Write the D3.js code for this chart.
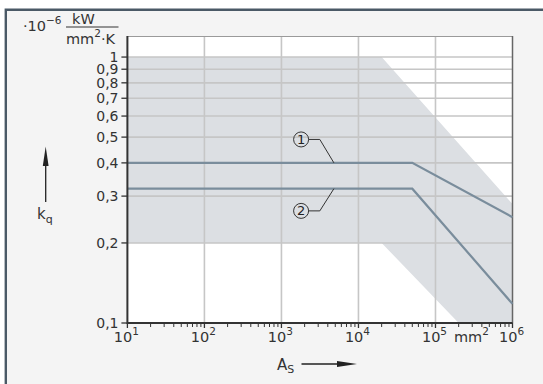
<!DOCTYPE html>
<html><head><meta charset="utf-8">
<script src="https://cdn.jsdelivr.net/npm/d3@7"></script>
<style>html,body{margin:0;padding:0;background:#fff;}svg{display:block;font-family:"DejaVu Sans",sans-serif;}</style>
</head><body>
<script>
// ---- data ----
const xTicks = [1e1, 1e2, 1e3, 1e4, 1e5, 1e6];
const xTickExp = ["1", "2", "3", "4", "5", "6"];
const yTicks = [0.1, 0.2, 0.3, 0.4, 0.5, 0.6, 0.7, 0.8, 0.9, 1];
const yTickLabels = ["0,1", "0,2", "0,3", "0,4", "0,5", "0,6", "0,7", "0,8", "0,9", "1"];
const bandPoly = [[10, 1], [2e4, 1], [1e6, 0.28], [1e6, 0.1], [2e5, 0.1], [2e4, 0.2], [10, 0.2]];
const curve1 = [[10, 0.4], [5e4, 0.4], [1e6, 0.25]];
const curve2 = [[10, 0.32], [5e4, 0.32], [1e6, 0.118]];
const curveLabels = ["1", "2"];
const labelAt = [[1.8e3, 0.49], [1.8e3, 0.264]];
const labelElbow = [[3.15e3, 0.49], [3.15e3, 0.264]];
const labelTo = [[4.8e3, 0.4], [4.8e3, 0.32]];

// ---- layout ----
const W = 543, H = 384;
const x = d3.scaleLog().domain([10, 1e6]).range([127.4, 512.5]);
const y = d3.scaleLog().domain([0.1, 1.2]).range([323, 36]);

const svg = d3.select("body").append("svg").attr("width", W).attr("height", H);
svg.append("rect").attr("width", W).attr("height", H).attr("fill", "#fff");
// outer frame
svg.append("rect").attr("x", 5).attr("y", 9).attr("width", W).attr("height", H).attr("fill", "#f4f4f4");
svg.append("path").attr("d", `M5.8,${H} V9.8 H${W}`).attr("fill", "none").attr("stroke", "#4a5966").attr("stroke-width", 2.4);

// plot background
svg.append("rect").attr("x", x(10)).attr("y", y(1.2)).attr("width", x(1e6) - x(10)).attr("height", y(0.1) - y(1.2)).attr("fill", "#fff");

// band
const line = d3.line().x(d => x(d[0])).y(d => y(d[1]));
svg.append("path").attr("d", line(bandPoly) + "Z").attr("fill", "#dcdfe3");

// grid
const g = svg.append("g").attr("stroke", "#c6c6c6").attr("stroke-width", 1.6);
xTicks.slice(1, -1).forEach(v => g.append("line").attr("x1", x(v)).attr("x2", x(v)).attr("y1", y(1.2)).attr("y2", y(0.1)));
yTicks.slice(1).forEach(v => g.append("line").attr("x1", x(10)).attr("x2", x(1e6)).attr("y1", y(v)).attr("y2", y(v)));

// plot borders top/right
svg.append("line").attr("x1", x(10)).attr("x2", x(1e6)).attr("y1", y(1.2) + 0.5).attr("y2", y(1.2) + 0.5).attr("stroke", "#9a9a9a").attr("stroke-width", 1);
svg.append("line").attr("x1", x(1e6)).attr("x2", x(1e6)).attr("y1", y(1.2)).attr("y2", y(0.1)).attr("stroke", "#666", ).attr("stroke-width", 1.5);

// curves
[curve1, curve2].forEach(c => svg.append("path").attr("d", line(c)).attr("fill", "none").attr("stroke", "#7a8d9c").attr("stroke-width", 2.2));

// curve labels
curveLabels.forEach((t, i) => {
  const cx = x(labelAt[i][0]), cy = y(labelAt[i][1]);
  svg.append("path").attr("d", `M${cx + 7.5},${cy} L${x(labelElbow[i][0])},${y(labelElbow[i][1])} L${x(labelTo[i][0])},${y(labelTo[i][1])}`)
    .attr("fill", "none").attr("stroke", "#333").attr("stroke-width", 1);
  svg.append("circle").attr("cx", cx).attr("cy", cy).attr("r", 7.5).attr("fill", "none").attr("stroke", "#333").attr("stroke-width", 1);
  svg.append("text").attr("x", cx).attr("y", cy + 4.6).attr("text-anchor", "middle").attr("font-size", 13).attr("fill", "#222").text(t);
});

// axes
const axisColor = "#333";
svg.append("path").attr("d", `M${x(10)},${y(1.2)} V${y(0.1)} H${x(1e6)}`).attr("fill", "none").attr("stroke", axisColor).attr("stroke-width", 2);
// y ticks
yTicks.forEach((v, i) => {
  svg.append("line").attr("x1", x(10) - 6).attr("x2", x(10)).attr("y1", y(v)).attr("y2", y(v)).attr("stroke", axisColor).attr("stroke-width", 1.3);
  svg.append("text").attr("x", 118.5).attr("y", y(v) + 5.2).attr("text-anchor", "end").attr("font-size", 14).attr("fill", "#333").text(yTickLabels[i]);
});
// x minor/major ticks
xTicks.forEach((v, i) => {
  svg.append("line").attr("x1", x(v)).attr("x2", x(v)).attr("y1", y(0.1)).attr("y2", y(0.1) + 5).attr("stroke", axisColor).attr("stroke-width", 1.3);
  if (i < xTicks.length - 1) {
    for (let m = 2; m <= 9; m++) {
      const mv = v * m;
      svg.append("line").attr("x1", x(mv)).attr("x2", x(mv)).attr("y1", y(0.1)).attr("y2", y(0.1) + 4).attr("stroke", axisColor).attr("stroke-width", 1);
    }
  }
  const t = svg.append("text").attr("x", x(v) - 1).attr("y", 341.5).attr("text-anchor", "middle").attr("font-size", 14.5).attr("fill", "#333");
  t.append("tspan").text("10");
  t.append("tspan").attr("dy", -7).attr("font-size", 10.5).text(xTickExp[i]);
});
// x unit
const mmT = svg.append("text").attr("x", 454).attr("y", 341.5).attr("font-size", 14.5).attr("fill", "#333");
mmT.append("tspan").text("mm");
mmT.append("tspan").attr("dy", -7).attr("font-size", 10.5).text("2");

// y unit
const u = svg.append("text").attr("x", 23).attr("y", 30.5).attr("font-size", 14.5).attr("fill", "#333");
u.append("tspan").text("·10");
u.append("tspan").attr("dy", -7).attr("font-size", 10.5).text("−6");
svg.append("text").attr("x", 72).attr("y", 24).attr("font-size", 14.5).attr("fill", "#333").text("kW");
svg.append("line").attr("x1", 66).attr("x2", 118.5).attr("y1", 27).attr("y2", 27).attr("stroke", "#333").attr("stroke-width", 1);
const mk = svg.append("text").attr("x", 66).attr("y", 44).attr("font-size", 14.5).attr("fill", "#333");
mk.append("tspan").text("mm");
mk.append("tspan").attr("dy", -7).attr("font-size", 10.5).text("2");
mk.append("tspan").attr("dy", 7).text("·K");

// y axis title with arrow
svg.append("line").attr("x1", 45.7).attr("x2", 45.7).attr("y1", 202).attr("y2", 160).attr("stroke", "#222").attr("stroke-width", 1.3);
svg.append("path").attr("d", "M45.7,146.5 L48.6,166 L42.8,166 Z").attr("fill", "#222");
const kq = svg.append("text").attr("x", 37).attr("y", 219).attr("font-size", 15).attr("fill", "#333");
kq.append("tspan").text("k");
kq.append("tspan").attr("dy", 3.5).attr("font-size", 11).text("q");

// x axis title with arrow
const as = svg.append("text").attr("x", 277).attr("y", 369.5).attr("font-size", 15).attr("fill", "#333");
as.append("tspan").text("A");
as.append("tspan").attr("dy", 3.5).attr("font-size", 11).text("S");
svg.append("line").attr("x1", 301.5).attr("x2", 340).attr("y1", 364).attr("y2", 364).attr("stroke", "#222").attr("stroke-width", 1.3);
svg.append("path").attr("d", "M357,364 L337,361 L337,367 Z").attr("fill", "#222");
</script>
</body></html>
